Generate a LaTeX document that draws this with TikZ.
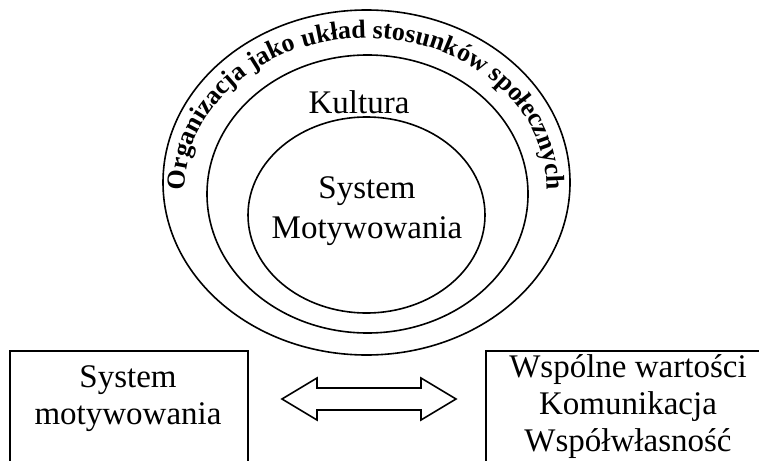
\documentclass[tikz,border=0pt]{standalone}
\usepackage{fontspec}
\setmainfont{Liberation Serif}
\usetikzlibrary{decorations.text}

\begin{document}
\begin{tikzpicture}[
    x = 0.5pt,
    y = -0.5pt,
    ring/.style = {draw, line width = 0.8pt},
    frame/.style = {draw, line width = 0.9pt},
    label/.style = {
      font = \fontsize{16.5}{20}\selectfont,
      align = center,
      inner sep = 0pt
    },
    boxtext/.style = {
      font = \fontsize{16.5}{18.5}\selectfont,
      align = center,
      inner sep = 0pt
    }
  ]
  \useasboundingbox (0,0) rectangle (759,460);
  \clip (0,0) rectangle (759,460);

  % nested ellipses
  \draw[ring] (366.5,182.5) ellipse [x radius = 101.75pt, y radius = 86.25pt];
  \draw[ring] (367.5,194) ellipse [x radius = 80.25pt, y radius = 69.5pt];
  \draw[ring] (366.5,215) ellipse [x radius = 59.25pt, y radius = 49pt];

  % title running round the outer ring
  \coordinate (mid) at (366,188);
  \begin{scope}[execute at begin scope = {\bfseries\fontsize{13}{15}\selectfont}]
    \path[decorate, decoration = {text along path, text align = center,
        text = {Organizacja jako układ stosunków społecznych}}]
      ([shift = {(mid)}] 188:90.5pt and 75pt)
      arc [start angle = 188, end angle = -8, x radius = 90.5pt, y radius = 75pt];
  \end{scope}

  \node[label, anchor = base] (kultura) at (359,113) {Kultura};
  \node[label] (core) at (367,211) {System\\Motywowania};

  % boxes at the bottom
  \draw[frame] (10,351) rectangle (248,480);
  \draw[frame] (486,351) rectangle (790,480);

  \node[boxtext] (motyw) at (128,398.5) {System\\motywowania};
  \node[boxtext] (values) at (628,406.5) {Wspólne wartości\\Komunikacja\\Współwłasność};

  % double arrow between the boxes
  \draw[ring] (282,399) -- (317,378) -- (317,388) -- (421,388) -- (421,378)
    -- (456,399) -- (421,420) -- (421,410) -- (317,410) -- (317,420) -- cycle;
\end{tikzpicture}
\end{document}
